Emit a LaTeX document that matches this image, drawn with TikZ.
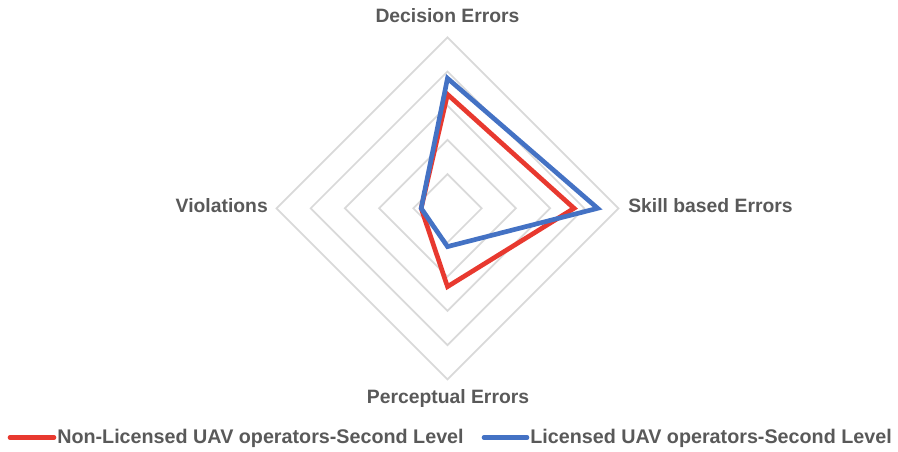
\documentclass[tikz,border=0pt]{standalone}
\usepackage{fontspec}
\setmainfont{Liberation Sans}
\definecolor{nonlic}{HTML}{E8392F}
\definecolor{lic}{HTML}{4472C4}
\definecolor{gridline}{HTML}{D9D9D9}
\definecolor{labeltext}{HTML}{595959}

\begin{document}
\begin{tikzpicture}[x=0.75pt,y=0.75pt,
  axislabel/.style={text=labeltext,font=\bfseries\fontsize{14.5}{17}\selectfont,inner sep=0pt},
  keylabel/.style={axislabel,font=\bfseries\fontsize{14.8}{17}\selectfont},
  series/.style={line width=3.5pt,line join=miter}]

  \useasboundingbox (0,0) rectangle (898,451);
  \coordinate (centre) at (447.5,242.7);

  \begin{scope}[shift={(centre)},x=25.65pt,y=25.65pt]
    % Grid rings
    \foreach \r in {1,...,5}
      \draw[gridline,line width=1.3pt] (0,\r) -- (\r,0) -- (0,-\r) -- (-\r,0) -- cycle;

    % Non-licensed operators
    \draw[nonlic,series] (0,3.33) -- (3.70,0) -- (0,-2.29) -- (-0.77,0) -- cycle;

    % Licensed operators
    \draw[lic,series] (0,3.80) -- (4.39,0) -- (0,-1.12) -- (-0.77,0) -- cycle;
  \end{scope}

  % Axis labels
  \node[axislabel,anchor=base] (decision) at (447.5,428) {Decision Errors};
  \node[axislabel,anchor=base west] (skill) at (628,239) {Skill based Errors};
  \node[axislabel,anchor=base east] (violations) at (268,239) {Violations};
  \node[axislabel,anchor=base] (perceptual) at (448,47.7) {Perceptual Errors};

  % Legend
  \node[keylabel,anchor=base west] (nonlickey) at (57,7.7) {Non-Licensed UAV operators-Second Level};
  \draw[nonlic,line width=3.5pt,line cap=round] (10,13.5) -- (54,13.5);
  \node[keylabel,anchor=base west] (lickey) at (530,7.7) {Licensed UAV operators-Second Level};
  \draw[lic,line width=3.5pt,line cap=round] (484,13.5) -- (527,13.5);

\end{tikzpicture}
\end{document}
